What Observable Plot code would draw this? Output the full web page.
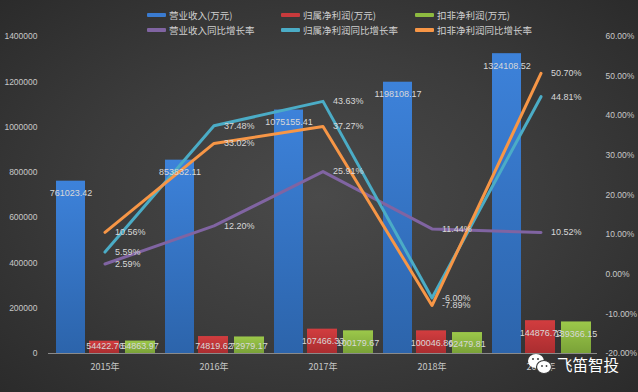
<!DOCTYPE html>
<html>
<head>
<meta charset="utf-8">
<script src="https://cdn.jsdelivr.net/npm/d3@7"></script>
<script src="https://cdn.jsdelivr.net/npm/@observablehq/plot@0.6"></script>
<style>
  html, body { margin: 0; padding: 0; background: #2a2a2a; }
  #wrap {
    position: relative; width: 638px; height: 392px; overflow: hidden;
    background: radial-gradient(ellipse 70% 75% at 50% 50%, #4a4a4a 0%, #3c3c3c 50%, #2a2a2a 100%);
    font-family: "Liberation Sans", "Noto Sans CJK SC", sans-serif;
  }
  #chart { position: absolute; left: 0; top: 0; }
  .legend { position: absolute; display: flex; align-items: center; font-size: 9.5px; color: #cfcfcf;
    font-family: "Noto Sans CJK SC", sans-serif; white-space: nowrap; }
  .legend .sw { width: 19px; height: 4px; margin-right: 3px; border-radius: 1px; }
  #wm { position: absolute; left: 527px; top: 353px; display: flex; align-items: center; color: #ffffff;
    font-family: "Noto Sans CJK SC", sans-serif; font-size: 15.5px; }
</style>
</head>
<body>
<div id="wrap">
  <svg width="0" height="0" style="position:absolute">
    <defs>
      <linearGradient id="gBlue" x1="0" y1="0" x2="0" y2="1">
        <stop offset="0" stop-color="#3d82da"/><stop offset="1" stop-color="#2c64ab"/>
      </linearGradient>
      <linearGradient id="gRed" x1="0" y1="0" x2="0" y2="1">
        <stop offset="0" stop-color="#d23d3f"/><stop offset="1" stop-color="#aa2d30"/>
      </linearGradient>
      <linearGradient id="gGreen" x1="0" y1="0" x2="0" y2="1">
        <stop offset="0" stop-color="#9cc84a"/><stop offset="1" stop-color="#7aa238"/>
      </linearGradient>
    </defs>
  </svg>
  <div id="chart"></div>
  <div id="legend"></div>
  <div id="wm">
    <svg width="26" height="22" viewBox="0 0 26 22" style="margin-right:4px">
      <ellipse cx="9" cy="8" rx="8" ry="7" fill="#fff"/>
      <ellipse cx="17" cy="14" rx="7.5" ry="6.5" fill="#fff" stroke="#3a3a3a" stroke-width="1.2"/>
      <circle cx="6" cy="6" r="1" fill="#3a3a3a"/><circle cx="11" cy="6" r="1" fill="#3a3a3a"/>
      <circle cx="15" cy="13" r="0.9" fill="#3a3a3a"/><circle cx="19.5" cy="13" r="0.9" fill="#3a3a3a"/>
    </svg>
    <span>飞笛智投</span>
  </div>
</div>
<script>
// ---- data ----
const years = ["2015", "2016", "2017", "2018", "2019"];
const revenue = [761023.42, 853832.11, 1075155.41, 1198108.17, 1324108.52];          // 营业收入(万元)
const netProfit = [54422.76, 74819.62, 107466.33, 100046.86, 144876.73];              // 归属净利润(万元)
const deductedProfit = [54863.97, 72979.17, 100179.67, 92479.81, 139366.15];          // 扣非净利润(万元)
const revenueGrowth = [2.59, 12.20, 25.91, 11.44, 10.52];                              // 营业收入同比增长率 (%)
const netProfitGrowth = [5.59, 37.48, 43.63, -6.00, 44.81];                            // 归属净利润同比增长率 (%)
const deductedGrowth = [10.56, 33.02, 37.27, -7.89, 50.70];                            // 扣非净利润同比增长率 (%)
const leftTicks = [0, 200000, 400000, 600000, 800000, 1000000, 1200000, 1400000];
const rightTicks = [-20, -10, 0, 10, 20, 30, 40, 50, 60];
const seriesNames = ["营业收入(万元)", "归属净利润(万元)", "扣非净利润(万元)",
                     "营业收入同比增长率", "归属净利润同比增长率", "扣非净利润同比增长率"];
const seriesColors = ["#3a7bd0", "#c83a3c", "#8dba40", "#8064a2", "#4bacc6", "#f79646"];

// ---- derived tables ----
const yMax = leftTicks[leftTicks.length - 1];
const pMin = rightTicks[0], pMax = rightTicks[rightTicks.length - 1];
const toY = p => (p - pMin) / (pMax - pMin) * yMax;
const fromY = v => v / yMax * (pMax - pMin) + pMin;
const labelFloor = 84000; // keep labels of short bars inside the bar

const barSets = [revenue, netProfit, deductedProfit].map((vals, i) =>
  years.map((y, j) => ({year: y, value: vals[j]})));
const lineSets = [revenueGrowth, netProfitGrowth, deductedGrowth].map((vals, i) =>
  years.map((y, j) => ({year: y, pct: vals[j]})));

const barFills = ["url(#gBlue)", "url(#gRed)", "url(#gGreen)"];
const insets = [[6, 74], [39, 40], [75, 4]];
const labelDx = [-34, 0, 35];
const txt = "#d8d8d8";

const marks = [];
barSets.forEach((rows, i) => {
  marks.push(Plot.barY(rows, {x: "year", y: "value", fill: barFills[i],
    insetLeft: insets[i][0], insetRight: insets[i][1]}));
});
lineSets.forEach((rows, i) => {
  marks.push(Plot.line(rows, {x: "year", y: d => toY(d.pct), stroke: seriesColors[3 + i],
    strokeWidth: 3, curve: "linear"}));
});
barSets.forEach((rows, i) => {
  marks.push(Plot.text(rows, {x: "year", y: d => Math.max(d.value, labelFloor), dy: 12, dx: labelDx[i],
    text: d => d.value.toFixed(2), fill: txt, fontSize: 9}));
});
lineSets.forEach((rows, i) => {
  marks.push(Plot.text(rows, {x: "year", y: d => toY(d.pct), dx: 10, textAnchor: "start",
    text: d => d.pct.toFixed(2) + "%", fill: txt, fontSize: 9}));
});
marks.push(Plot.axisY(leftTicks, {anchor: "left", label: null, tickSize: 0, tickPadding: 11, tickFormat: d => String(d),
  fill: "#c8c8c8", fontSize: 8.5}));
marks.push(Plot.axisY(rightTicks.map(toY), {anchor: "right", label: null, tickSize: 0, tickPadding: 8, textAnchor: "start",
  tickFormat: d => fromY(d).toFixed(2) + "%", fill: "#c8c8c8", fontSize: 8.5}));
marks.push(Plot.axisX(years, {label: null, tickSize: 0, tickPadding: 10, tickFormat: d => d + "年",
  fill: "#c8c8c8", fontSize: 9, fontFamily: "'Noto Sans CJK SC', sans-serif"}));
marks.push(Plot.ruleY([0], {stroke: "#8a8a8a", strokeWidth: 1}));

const chart = Plot.plot({
  width: 638, height: 392,
  marginLeft: 48, marginRight: 41, marginTop: 36, marginBottom: 39,
  style: {background: "transparent", fontFamily: "'Liberation Sans', 'Noto Sans CJK SC', sans-serif", fontSize: "9px", color: "#c8c8c8"},
  x: {type: "band", domain: years, padding: 0, axis: null, label: null},
  y: {domain: [0, yMax], axis: null, label: null},
  marks
});
document.getElementById("chart").appendChild(chart);

// ---- legend ----
const legend = document.getElementById("legend");
const legPos = [[147, 8], [281, 8], [415, 8], [147, 23], [281, 23], [415, 23]];
seriesNames.forEach((name, i) => {
  const el = document.createElement("div");
  el.className = "legend";
  el.style.left = legPos[i][0] + "px";
  el.style.top = legPos[i][1] + "px";
  el.innerHTML = `<span class="sw" style="background:${seriesColors[i]}"></span><span>${name}</span>`;
  legend.appendChild(el);
});
</script>
</body>
</html>
